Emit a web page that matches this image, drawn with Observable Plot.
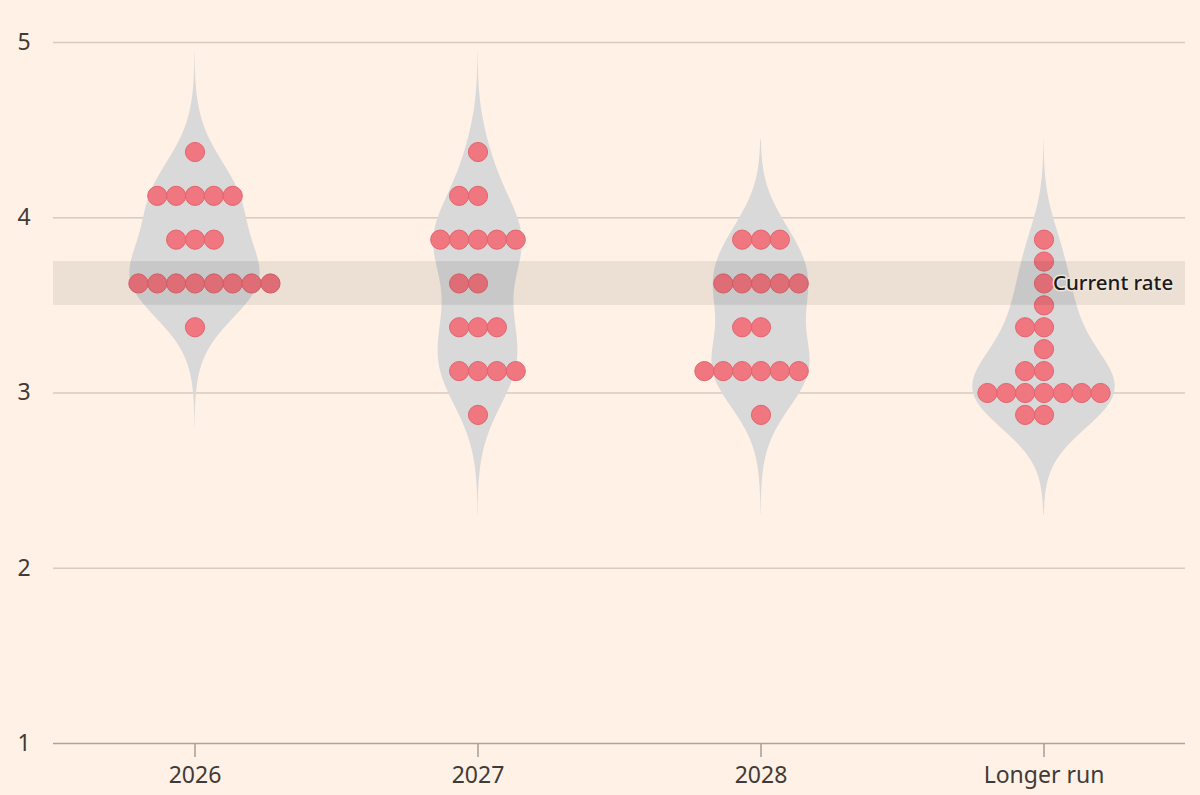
<!DOCTYPE html>
<html><head><meta charset="utf-8">
<script src="https://cdn.jsdelivr.net/npm/d3@7"></script>
<script src="https://cdn.jsdelivr.net/npm/@observablehq/plot@0.6"></script>
<style>
html,body{margin:0;padding:0;background:#fff1e5;}
#chart{width:1200px;height:795px;}
</style></head><body><div id="chart"></div>
<script>
// ---- data ----
const categories = ["2026", "2027", "2028", "Longer run"];

const rates2026 = [4.375, 4.125, 3.875, 3.625, 3.375];
const counts2026 = [1, 5, 3, 8, 1];
const firstSlot2026 = [0, -2, -1, -3, 0];

const rates2027 = [4.375, 4.125, 3.875, 3.625, 3.375, 3.125, 2.875];
const counts2027 = [1, 2, 5, 2, 3, 4, 1];
const firstSlot2027 = [0, -1, -2, -1, -1, -1, 0];

const rates2028 = [3.875, 3.625, 3.375, 3.125, 2.875];
const counts2028 = [3, 5, 2, 6, 1];
const firstSlot2028 = [-1, -2, -1, -3, 0];

const ratesLonger = [3.875, 3.75, 3.625, 3.5, 3.375, 3.25, 3.125, 3.0, 2.875];
const countsLonger = [1, 1, 1, 1, 2, 1, 2, 7, 2];
const firstSlotLonger = [0, 0, 0, 0, -1, 0, -1, -3, -1];

const currentRate = [{low: 3.5, high: 3.75, mid: 3.625, label: "Current rate", category: "Longer run", slot: 0}];
const yTicks = [1, 2, 3, 4, 5];

// ---- derived tables ----
const groups = [
  {category: categories[0], rates: rates2026, counts: counts2026, first: firstSlot2026},
  {category: categories[1], rates: rates2027, counts: counts2027, first: firstSlot2027},
  {category: categories[2], rates: rates2028, counts: counts2028, first: firstSlot2028},
  {category: categories[3], rates: ratesLonger, counts: countsLonger, first: firstSlotLonger}
];

const dots = groups.flatMap(g => g.rates.flatMap((r, i) =>
  d3.range(g.counts[i]).map(j => ({category: g.category, rate: r, slot: g.first[i] + j}))));

// violin = gaussian kernel density of each group's dots
const bandwidth = 0.2, extend = 0.57, widthPerCount = 0.335;
const violin = groups.flatMap(g => {
  const vals = g.rates.flatMap((r, i) => Array(g.counts[i]).fill(r));
  const lo = d3.min(vals) - extend, hi = d3.max(vals) + extend;
  const n = Math.round((hi - lo) / 0.005);
  return d3.range(n + 1).map(k => {
    const v = lo + k * (hi - lo) / n;
    const dens = d3.sum(vals, x => Math.exp(-0.5 * ((v - x) / bandwidth) ** 2));
    return {category: g.category, rate: v, half: dens * widthPerCount};
  });
});

const chart = Plot.plot({
  width: 1200,
  height: 795,
  marginTop: 42,
  marginBottom: 52,
  marginLeft: 53,
  marginRight: 15,
  style: {background: "#fff1e5", fontFamily: "'Noto Sans', sans-serif", fontSize: "23px", color: "#3f3b38"},
  fx: {domain: categories, padding: 0, label: null},
  x: {domain: [-7.5, 7.5], axis: null},
  y: {domain: [1, 5], label: null},
  marks: [
    Plot.gridY(yTicks.slice(1), {stroke: "#d6cbc0", strokeOpacity: 1, strokeWidth: 1.6}),
    Plot.areaX(violin, {fx: "category", y: "rate", x1: d => -d.half, x2: d => d.half, fill: "#d9d9d9"}),
    Plot.dot(dots, {fx: "category", x: "slot", y: "rate", r: 9.6, fill: "#f0767f", stroke: "#e2646e", strokeWidth: 1}),
    Plot.rectY(currentRate, {y1: "low", y2: "high", fill: "#000", fillOpacity: 0.075}),
    Plot.ruleY([1], {stroke: "#aca39b", strokeWidth: 1.6}),
    Plot.axisY(yTicks, {anchor: "left", tickSize: 0, tickPadding: 36, textAnchor: "start", tickFormat: d => String(d), fontSize: 23, fill: "#3f3b38", label: null}),
    Plot.axisFx({anchor: "bottom", tickSize: 14, tickPadding: 9, fontSize: 23, fill: "#3f3b38", stroke: "#aca39b", strokeWidth: 1.6, label: null}),
    Plot.text(currentRate, {fx: "category", x: "slot", y: "mid", text: "label", textAnchor: "start", dx: 9, fontSize: 20.5, fontWeight: 500, fill: "#1a1a1a", stroke: "#efe5db", strokeWidth: 3})
  ]
});
document.getElementById("chart").appendChild(chart);
</script>
</body></html>
